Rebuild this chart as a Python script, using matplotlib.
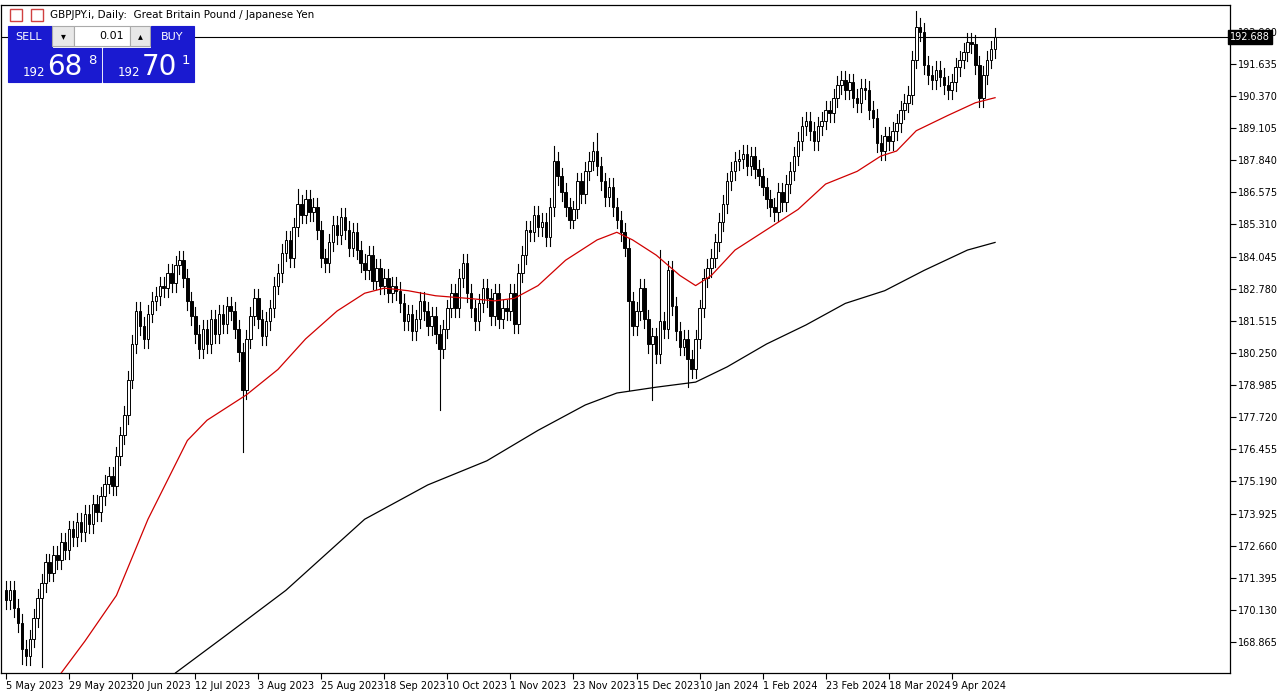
import matplotlib
matplotlib.use("Agg")
import matplotlib.pyplot as plt
from matplotlib.patches import Rectangle
import numpy as np

closes = [170.5,170.9,170.2,169.6,168.6,168.3,169.0,169.8,170.6,171.2,
172.0,171.6,172.3,172.1,172.8,172.5,173.3,173.0,173.6,173.2,
173.9,173.5,174.3,174.0,174.6,175.1,175.4,175.0,176.2,177.0,
177.8,179.2,180.6,181.9,181.3,180.8,181.8,182.3,182.5,182.9,
182.8,183.4,183.0,183.7,183.9,183.2,182.3,181.7,181.0,180.4,
181.2,180.6,181.6,181.0,181.8,181.4,182.1,181.9,181.2,180.3,
178.8,180.8,181.7,182.4,181.6,180.9,181.5,182.0,182.9,183.4,
184.2,184.7,184.0,185.2,186.1,185.7,186.3,185.8,186.0,185.1,
184.0,183.8,184.6,185.3,184.9,185.6,185.1,184.4,185.0,184.3,
183.8,183.5,184.1,183.1,183.6,182.9,183.2,182.6,182.9,182.7,
182.2,181.5,181.8,181.1,181.6,182.3,181.9,181.3,181.7,181.0,
180.4,181.2,182.0,182.6,182.0,183.2,183.8,182.6,182.0,181.5,
182.2,182.8,182.4,181.7,182.6,181.6,182.0,181.9,182.6,181.4,
183.4,184.1,185.1,185.0,185.7,185.2,185.4,184.8,186.0,187.8,
187.2,186.6,186.0,185.5,185.9,187.0,186.5,187.4,187.8,188.2,
187.6,187.0,186.4,186.8,186.0,185.5,185.0,184.4,182.3,181.3,
181.9,182.8,181.6,180.6,180.9,180.2,181.5,181.2,183.5,182.1,
181.1,180.5,180.8,180.0,179.6,180.8,182.0,183.2,183.6,184.0,
184.6,185.4,186.1,187.0,187.4,187.8,187.9,188.1,187.6,188.0,
187.5,187.2,186.8,186.3,186.0,185.8,186.6,186.2,186.9,187.4,
188.0,188.6,189.2,189.4,189.0,188.6,189.2,189.4,189.8,189.7,
190.3,190.8,191.0,190.6,190.9,190.3,190.1,190.7,190.6,189.8,
189.5,188.5,188.2,188.8,188.6,189.0,189.3,189.8,190.1,190.4,
191.8,193.1,192.9,191.6,191.2,191.0,191.4,191.1,190.8,190.6,
190.9,191.5,191.8,192.1,192.5,192.4,191.6,190.3,191.2,191.8,
192.2,192.69]
first_open = 170.9
long_lows = {60: 176.35, 110: 178.0, 158: 178.8, 164: 178.4, 173: 178.9, 4: 168.0, 9: 167.9}
long_highs = {166: 184.3, 231: 193.7, 150: 188.9, 139: 188.4, 74: 186.7}
default_wick = 0.35

ma50_idx = [14,20,28,36,46,51,61,69,76,84,91,96,102,109,117,124,129,135,142,150,155,159,165,171,175,179,185,193,201,208,216,222,226,231,239,246,251]
ma50_val = [167.65,168.9,170.7,173.7,176.8,177.6,178.6,179.6,180.8,181.9,182.6,182.8,182.7,182.5,182.4,182.3,182.4,182.9,183.9,184.7,185.0,184.7,184.1,183.3,182.9,183.3,184.3,185.1,185.9,186.9,187.4,188.0,188.2,189.0,189.6,190.1,190.3]
ma200_idx = [43,56,71,81,91,107,122,135,147,155,165,175,183,193,203,213,223,233,244,251]
ma200_val = [167.65,169.15,170.9,172.3,173.7,175.05,176.0,177.2,178.2,178.67,178.9,179.1,179.7,180.6,181.35,182.2,182.7,183.5,184.3,184.6]

ytick_vals = [192.900,191.635,190.370,189.105,187.840,186.575,185.310,184.045,182.780,181.515,180.250,178.985,177.720,176.455,175.190,173.925,172.660,171.395,170.130,168.865]
xtick_idx = [0,16,32,48,64,80,96,112,128,144,160,176,192,208,224,240]
xtick_lbl = ["5 May 2023","29 May 2023","20 Jun 2023","12 Jul 2023","3 Aug 2023","25 Aug 2023","18 Sep 2023","10 Oct 2023","1 Nov 2023","23 Nov 2023","15 Dec 2023","10 Jan 2024","1 Feb 2024","23 Feb 2024","18 Mar 2024","9 Apr 2024"]

W, H = 1285, 696
fig = plt.figure(figsize=(W/100, H/100), dpi=100)
ax = fig.add_axes([1/W, (H-673)/H, 1229/W, 668/H])
ppx = 3.94
ax.set_xlim(-1.3, -1.3 + 1229/ppx)
ax.set_ylim(167.645, 193.95)

opens = [first_open] + closes[:-1]
for i, (o, c) in enumerate(zip(opens, closes)):
    hi = long_highs.get(i, max(o, c) + default_wick)
    lo = long_lows.get(i, min(o, c) - default_wick)
    ax.plot([i, i], [lo, hi], color='black', lw=0.8, zorder=2)
    b0, b1 = min(o, c), max(o, c)
    if b1 - b0 < 0.04:
        b1 = b0 + 0.04
    ax.add_patch(Rectangle((i-0.32, b0), 0.64, b1-b0, facecolor='white' if c >= o else 'black',
                           edgecolor='black', lw=0.7, zorder=3))

ax.plot(ma50_idx, ma50_val, color='#d00000', lw=0.9, zorder=4)
ax.plot(ma200_idx, ma200_val, color='black', lw=0.9, zorder=4)
ax.axhline(192.688, color='black', lw=0.8, zorder=1)

ax.yaxis.tick_right()
ax.set_yticks(ytick_vals)
ax.set_yticklabels([f"{v:.3f}" for v in ytick_vals], fontsize=7)
ax.set_xticks(xtick_idx)
ax.set_xticklabels(xtick_lbl, fontsize=7, ha='left')
ax.tick_params(length=4, width=0.8, pad=2)
for s in ax.spines.values():
    s.set_linewidth(0.9)
ax.text(1.0, 192.688, "192.688", transform=ax.get_yaxis_transform(), fontsize=7, color='white',
        va='center', ha='left', zorder=20, bbox=dict(boxstyle='square,pad=0.2', fc='black', ec='black'))

fig.text(50/W, 1-15/H, "GBPJPY.i, Daily:  Great Britain Pound / Japanese Yen", fontsize=7.5, va='center')
fig.patches.append(Rectangle((10/W, 1-21/H), 12/W, 12/H, transform=fig.transFigure, fc='white', ec='#d04040', lw=1))
fig.patches.append(Rectangle((31/W, 1-21/H), 12/W, 12/H, transform=fig.transFigure, fc='white', ec='#d04040', lw=1))
blue = '#1a1ad0'
def box(x, y, w, h, fc, ec=None):
    fig.patches.append(Rectangle((x/W, 1-(y+h)/H), w/W, h/H, transform=fig.transFigure, fc=fc, ec=ec or fc, lw=0.8, zorder=10))
box(8, 26, 44, 22, blue)
box(52, 26, 22, 20, '#e8e8e8', '#aaaaaa')
box(74, 26, 56, 20, 'white', '#aaaaaa')
box(130, 26, 20, 20, '#e8e8e8', '#aaaaaa')
box(151, 26, 43, 22, blue)
box(8, 48, 93, 34, blue)
box(103, 48, 91, 34, blue)
def t(x, y, s, size, color='white', ha='center'):
    fig.text(x/W, 1-y/H, s, fontsize=size, color=color, ha=ha, va='center', zorder=11)
t(29, 37, "SELL", 8)
t(172, 37, "BUY", 8)
t(124, 36, "0.01", 8, 'black', 'right')
t(63, 36, "▾", 7, 'black')
t(140, 36, "▴", 7, 'black')
t(45, 73, "192", 8.5, ha='right')
t(47, 67, "68", 20, ha='left')
t(88, 60, "8", 9.5, ha='left')
t(140, 73, "192", 8.5, ha='right')
t(142, 67, "70", 20, ha='left')
t(182, 60, "1", 9.5, ha='left')

fig.savefig("out.png", dpi=100)
